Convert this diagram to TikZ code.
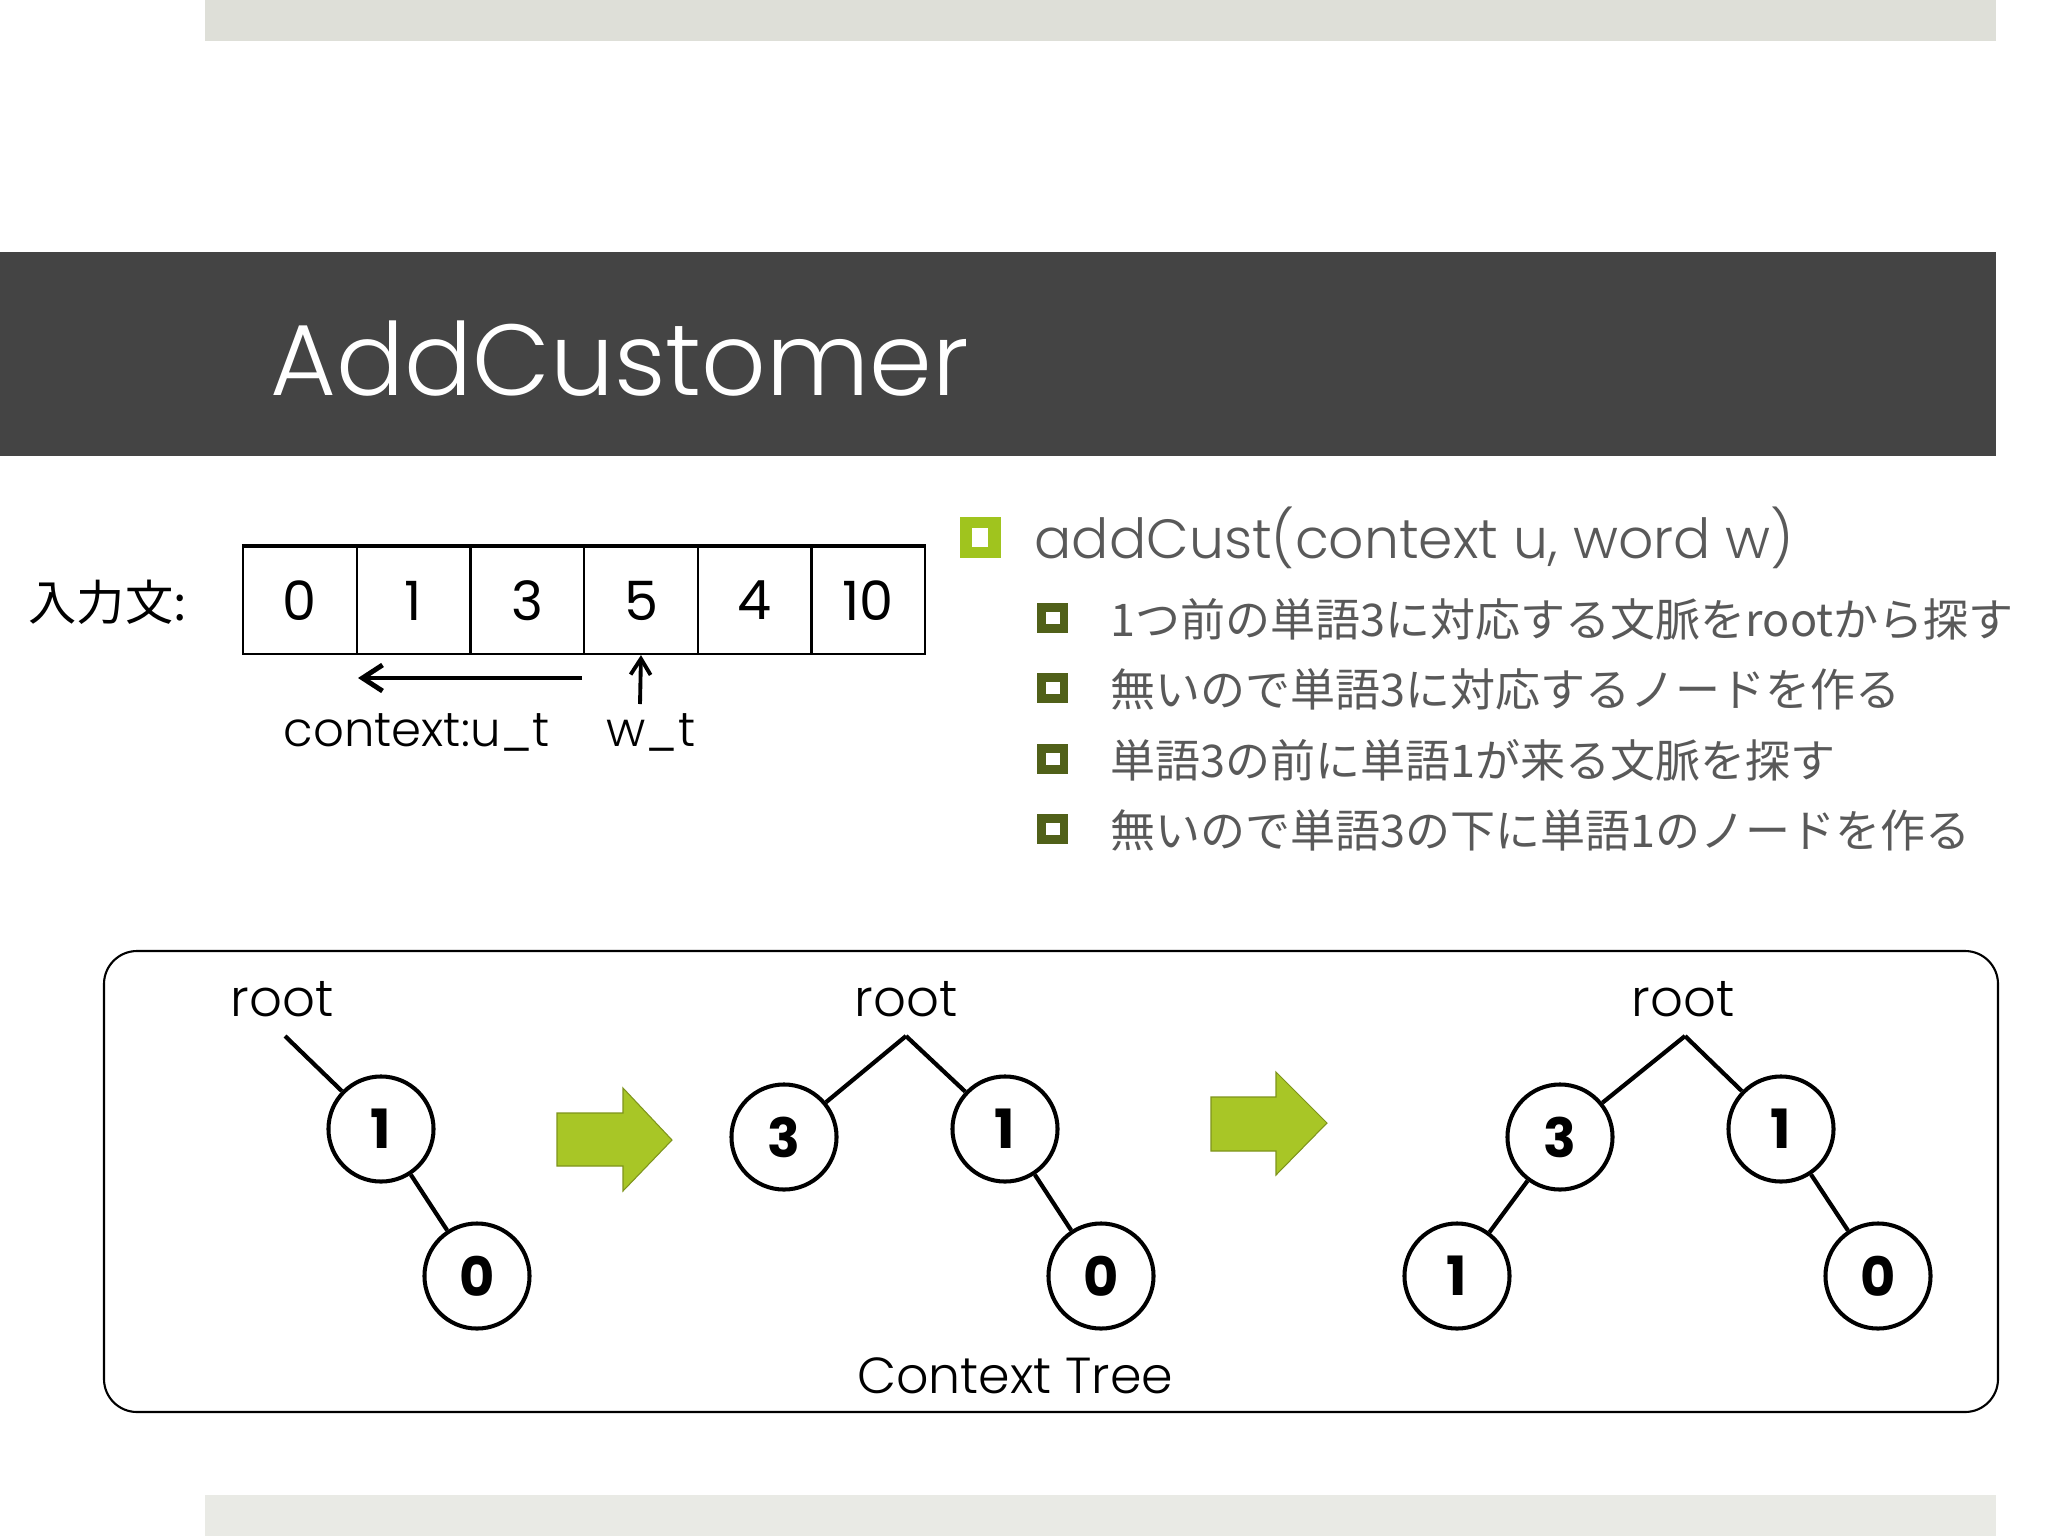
\documentclass[tikz,border=0pt]{standalone}
\usepackage{fontspec}
\setmainfont{Poppins}
\newfontfamily\lightfont{Poppins Light}
\newfontfamily\jpfont{Noto Sans CJK JP}
\usetikzlibrary{arrows.meta}

\definecolor{topbar}{RGB}{222,223,216}
\definecolor{botbar}{RGB}{233,234,229}
\definecolor{band}{RGB}{68,68,68}
\definecolor{textgray}{RGB}{89,89,89}
\definecolor{bulletgreen}{RGB}{160,196,30}
\definecolor{bulletolive}{RGB}{80,96,25}
\definecolor{arrowgreen}{RGB}{168,198,38}

\tikzset{
  cell/.style={draw, line width=0.6pt, minimum width=1.137cm, minimum height=1.07cm, inner sep=0pt, font=\fontsize{15.4}{18}\selectfont},
  treenode/.style={circle, draw, line width=1.15pt, minimum size=1.05cm, inner sep=0pt, fill=white, font=\fontsize{15.4}{18}\selectfont\bfseries},
  edge/.style={line width=1.2pt},
  lbl/.style={inner sep=0pt, font=\lightfont\fontsize{14.6}{18}\selectfont},
  subitem/.style={anchor=base west, inner sep=0pt, text=textgray, font=\jpfont\fontsize{12.8}{15}\selectfont},
  greenarrow/.style={fill=arrowgreen, draw=arrowgreen!75!black, line width=0.3pt}
}

\begin{document}
\begin{tikzpicture}[x=0.01cm, y=-0.01cm]
	\fill[white] (0,0) rectangle (2048,1536);
	\useasboundingbox (0,0) rectangle (2048,1536);
	% slide frame
	\fill[topbar] (205,0) rectangle (1996,41);
	\fill[botbar] (205,1495) rectangle (1996,1536);
	\fill[band] (0,252) rectangle (1996,456);
	\node[anchor=base west, inner sep=0pt, text=white, font=\lightfont\fontsize{28.7}{33}\selectfont] (title) at (270,395) {AddCustomer};

	% input sentence
	\node[anchor=base west, inner sep=0pt, font=\jpfont\fontsize{13.7}{16}\selectfont] (inlbl) at (28,620) {入力文:};
	\node[cell] (c0) at (299.9,600.5) {0};
	\node[cell] (c1) at (413.6,600.5) {1};
	\node[cell] (c2) at (527.3,600.5) {3};
	\node[cell] (c3) at (641.0,600.5) {5};
	\node[cell] (c4) at (754.6,600.5) {4};
	\node[cell] (c5) at (868.3,600.5) {10};
	\draw[line width=1.1pt] (c0.north west)--(c5.north east);

	\node[lbl, anchor=base west, font=\lightfont\fontsize{13.7}{16}\selectfont] (ulbl) at (283,746) {context:u\_t};
	\node[lbl, anchor=base west, font=\lightfont\fontsize{13.7}{16}\selectfont] (wlbl) at (606,746) {w\_t};
	\coordinate (la) at (582,678);
	\coordinate (lb) at (358,678);
	\coordinate (wa) at (640,704);
	\draw[line width=1.4pt, -{Straight Barb[length=0.2cm, width=0.26cm]}] (la)--(lb);
	\draw[line width=1.1pt, -{Straight Barb[length=0.16cm, width=0.2cm]}] (wa)--(c3.south);

	% bullets
	\fill[bulletgreen] (960,517) rectangle (1001,558);
	\fill[white] (972,528) rectangle (988,547);
	\node[anchor=base west, inner sep=0pt, text=textgray, font=\lightfont\fontsize{15.7}{19}\selectfont] (head) at (1034,558) {addCust(context u, word w)};

	\fill[bulletolive] (1037,603) rectangle (1068,633);
	\fill[white] (1046,612) rectangle (1060,624);
	\node[subitem] (s1) at (1110,636) {1つ前の単語3に対応する文脈をrootから探す};
	\fill[bulletolive] (1037,673) rectangle (1068,703);
	\fill[white] (1046,682) rectangle (1060,694);
	\node[subitem] (s2) at (1110,706) {無いので単語3に対応するノードを作る};
	\fill[bulletolive] (1037,744) rectangle (1068,774);
	\fill[white] (1046,753) rectangle (1060,765);
	\node[subitem] (s3) at (1110,777) {単語3の前に単語1が来る文脈を探す};
	\fill[bulletolive] (1037,814) rectangle (1068,844);
	\fill[white] (1046,823) rectangle (1060,835);
	\node[subitem] (s4) at (1110,847) {無いので単語3の下に単語1のノードを作る};

	% context tree box
	\draw[line width=0.6pt, rounded corners=0.33cm] (104,951) rectangle (1998,1412);
	\node[lbl, font=\lightfont\fontsize{14.4}{18}\selectfont] (ctree) at (1015,1376) {Context Tree};

	% tree 1
	\node[lbl] (ra) at (282,999) {root};
	\coordinate (pa) at (285,1036);
	\node[treenode] (a1) at (381,1129) {1};
	\node[treenode] (a0) at (477,1276) {0};
	\draw[edge] (pa)--(a1);
	\draw[edge] (a1)--(a0);

	% tree 2
	\node[lbl] (rb) at (906,999) {root};
	\coordinate (pb) at (906,1036);
	\node[treenode] (b3) at (784,1137) {3};
	\node[treenode] (b1) at (1005,1129) {1};
	\node[treenode] (b0) at (1101,1276) {0};
	\draw[edge] (pb)--(b3);
	\draw[edge] (pb)--(b1);
	\draw[edge] (b1)--(b0);

	% tree 3
	\node[lbl] (rc) at (1683,999) {root};
	\coordinate (pc) at (1685,1036);
	\node[treenode] (c3n) at (1560,1137) {3};
	\node[treenode] (c1n) at (1781,1129) {1};
	\node[treenode] (cl) at (1457,1276) {1};
	\node[treenode] (c0n) at (1878,1276) {0};
	\draw[edge] (pc)--(c3n);
	\draw[edge] (pc)--(c1n);
	\draw[edge] (c3n)--(cl);
	\draw[edge] (c1n)--(c0n);

	% green arrows
	\draw[greenarrow] (557,1113)--(623,1113)--(623,1088)--(672,1140)--(623,1191)--(623,1166)--(557,1166)--cycle;
	\draw[greenarrow] (1211,1097)--(1276,1097)--(1276,1072)--(1327,1123)--(1276,1175)--(1276,1151)--(1211,1151)--cycle;
\end{tikzpicture}
\end{document}
